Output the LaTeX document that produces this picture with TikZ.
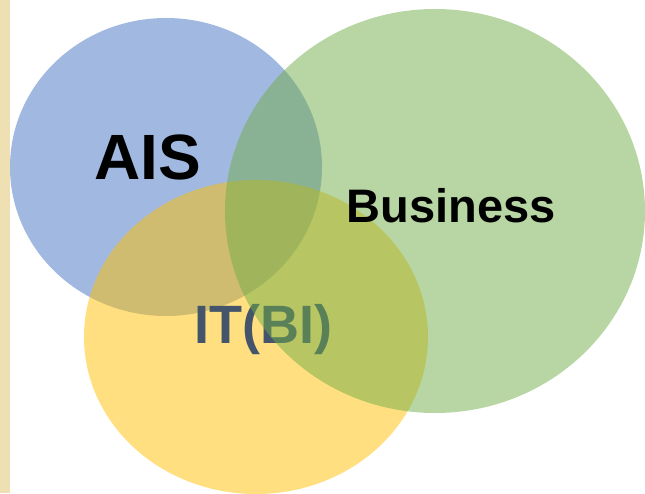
\documentclass[tikz,border=0pt]{standalone}
\usepackage{fontspec}
\setmainfont{Liberation Sans}
\usetikzlibrary{shapes.geometric}
\definecolor{aisblue}{RGB}{68,114,196}
\definecolor{bizgreen}{RGB}{112,173,71}
\definecolor{itgold}{RGB}{255,192,0}
\definecolor{itslate}{RGB}{68,84,106}
\definecolor{strip}{RGB}{238,224,178}
\begin{document}
\begin{tikzpicture}[x=1pt,y=-1pt,
  set/.style={ellipse, inner sep=0pt, fill opacity=0.5, draw=none},
  lbl/.style={font=\bfseries, inner sep=0pt}]
\useasboundingbox (0,0) rectangle (645,493);
\fill[strip] (0,0) rectangle (10,493);
\node[set, fill=aisblue, minimum width=312pt, minimum height=298pt] (ais) at (166,167){};
\node[set, fill=itgold, minimum width=344pt, minimum height=314pt] (it) at (256,337){};
\node[lbl, text=itslate, font=\bfseries\fontsize{54}{54}\selectfont] (itlbl) at (263,330){IT(BI)};
\node[set, fill=bizgreen, minimum width=420pt, minimum height=404pt] (biz) at (435,211){};
\node[lbl, font=\bfseries\fontsize{64}{64}\selectfont] (aislbl) at (148,157){AIS};
\node[lbl, font=\bfseries\fontsize{47}{47}\selectfont] (bizlbl) at (451,206){Business};
\end{tikzpicture}
\end{document}
